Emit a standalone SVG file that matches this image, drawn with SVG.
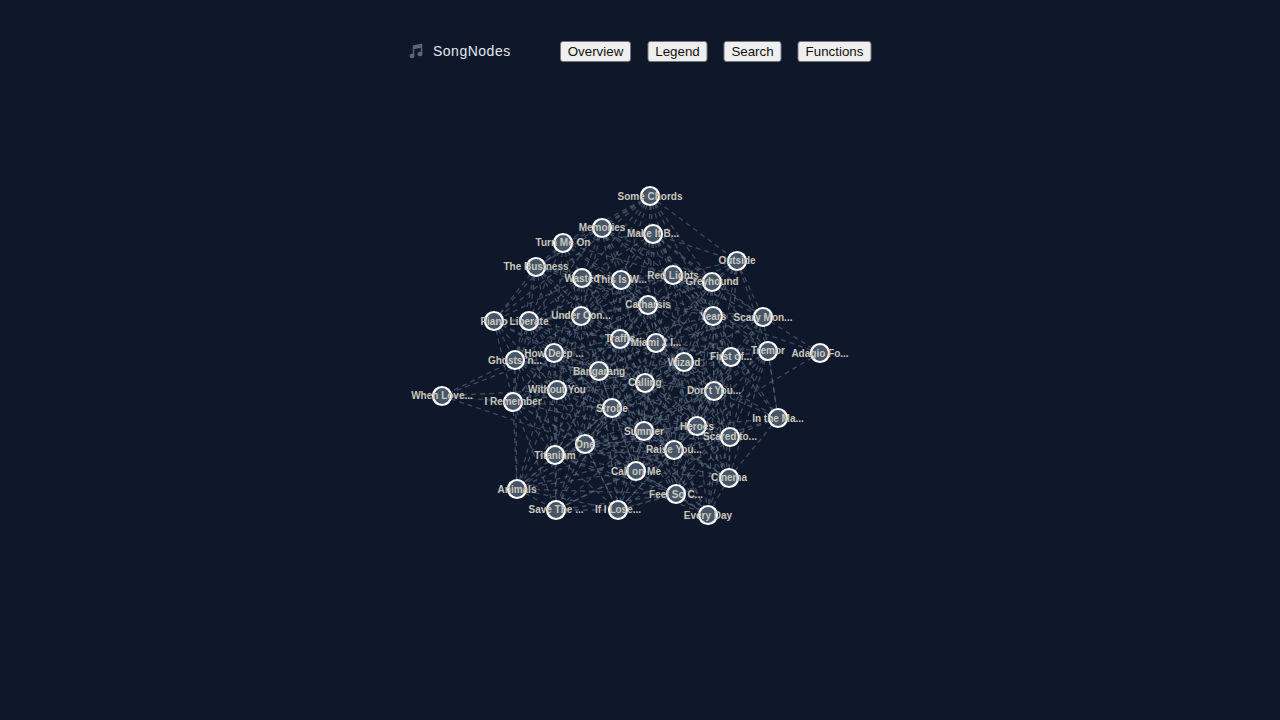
<svg xmlns="http://www.w3.org/2000/svg" width="1280" height="720" viewBox="0 0 1280 720">
<style>
.bg{fill:#0f172a}
.e{fill:none;stroke:#64748b;stroke-opacity:.55;stroke-width:1.3;stroke-dasharray:5 4}
.n circle{fill:#475569;stroke:#fff;stroke-width:2.2}
.n text{font:bold 10px "Liberation Sans",Arial,sans-serif;fill:#c9c7bd;text-anchor:middle}
.b rect{fill:#efefef;stroke:#767676;stroke-width:1}
.b text{font:13.33px "Liberation Sans",Arial,sans-serif;fill:#111;text-anchor:middle}
</style>
<rect class="bg" width="1280" height="720"/>
<g id="header">
<path d="M413.500 46V55.500M421.500 44.500V53.500M413.500 46L421.500 44.500V47L413.500 48.500Z" fill="#56697d" stroke="#56697d" stroke-width="1.500"/>
<ellipse cx="412" cy="56" rx="2.500" ry="2.200" fill="#56697d"/>
<ellipse cx="420" cy="54" rx="2.500" ry="2.200" fill="#56697d"/>
<text x="433" y="56" font-family="Liberation Sans,Arial,sans-serif" font-size="14" letter-spacing=".5" fill="#e2e8f0">SongNodes</text>
<g class="b" id="btn-overview"><rect x="560.500" y="41.500" width="70" height="20" rx="2.500"/><text x="595.500" y="56">Overview</text></g>
<g class="b" id="btn-legend"><rect x="648" y="41.500" width="59" height="20" rx="2.500"/><text x="677.500" y="56">Legend</text></g>
<g class="b" id="btn-search"><rect x="724" y="41.500" width="57" height="20" rx="2.500"/><text x="752.500" y="56">Search</text></g>
<g class="b" id="btn-functions"><rect x="798" y="41.500" width="73" height="20" rx="2.500"/><text x="834.500" y="56">Functions</text></g>
</g>
<g id="connectors" class="e">
<path d="M650 196L737 261M650 196L563 243M650 196L536 267M650 196L602 228M650 196L653 234M650 196L582 278M650 196L621 280M650 196L673 275M650 196L712 282M650 196L648 305M650 196L713 316M650 196L581 316M650 196L494 321"/>
<path d="M602 228L653 234M602 228L563 243M602 228L536 267M602 228L582 278M602 228L621 280M602 228L673 275M602 228L712 282M602 228L648 305M602 228L581 316M602 228L529 321M602 228L620 339M602 228L656 343M602 228L713 316"/>
<path d="M653 234L737 261M653 234L563 243M653 234L582 278M653 234L621 280M653 234L673 275M653 234L712 282M653 234L648 305M653 234L713 316M653 234L763 317M653 234L581 316M653 234L620 339M653 234L656 343M653 234L731 357M653 234L684 362"/>
<path d="M563 243L536 267M563 243L582 278M563 243L621 280M563 243L529 321M563 243L581 316M563 243L494 321M563 243L648 305M563 243L620 339M563 243L554 353M563 243L673 275"/>
<path d="M536 267L582 278M536 267L621 280M536 267L494 321M536 267L529 321M536 267L581 316M536 267L515 360M536 267L554 353M536 267L620 339M536 267L599 371M536 267L648 305"/>
<path d="M737 261L712 282M737 261L673 275M737 261L713 316M737 261L763 317M737 261L648 305M737 261L768 351M737 261L731 357M737 261L684 362M737 261L656 343M737 261L714 391"/>
<path d="M582 278L621 280M582 278L673 275M582 278L648 305M582 278L581 316M582 278L529 321M582 278L494 321M582 278L620 339M582 278L656 343M582 278L554 353M582 278L515 360M582 278L599 371M582 278L645 383M582 278L557 390"/>
<path d="M621 280L673 275M621 280L712 282M621 280L648 305M621 280L713 316M621 280L581 316M621 280L529 321M621 280L620 339M621 280L656 343M621 280L554 353M621 280L684 362M621 280L599 371M621 280L645 383M621 280L612 408M621 280L731 357"/>
<path d="M673 275L712 282M673 275L648 305M673 275L713 316M673 275L763 317M673 275L581 316M673 275L620 339M673 275L656 343M673 275L684 362M673 275L731 357M673 275L645 383M673 275L714 391M673 275L768 351"/>
<path d="M712 282L648 305M712 282L713 316M712 282L763 317M712 282L656 343M712 282L684 362M712 282L731 357M712 282L768 351M712 282L714 391M712 282L645 383M712 282L697 426"/>
<path d="M648 305L713 316M648 305L763 317M648 305L581 316M648 305L529 321M648 305L620 339M648 305L656 343M648 305L554 353M648 305L684 362M648 305L731 357M648 305L599 371M648 305L645 383M648 305L714 391M648 305L612 408M648 305L697 426M648 305L644 431M648 305L557 390"/>
<path d="M713 316L763 317M713 316L656 343M713 316L620 339M713 316L684 362M713 316L731 357M713 316L768 351M713 316L820 353M713 316L645 383M713 316L714 391M713 316L778 418M713 316L697 426M713 316L730 437M713 316L644 431M713 316L599 371"/>
<path d="M763 317L820 353M763 317L768 351M763 317L731 357M763 317L684 362M763 317L714 391M763 317L645 383M763 317L697 426M763 317L778 418M763 317L730 437M763 317L656 343"/>
<path d="M494 321L529 321M494 321L581 316M494 321L515 360M494 321L554 353M494 321L513 402M494 321L599 371M494 321L557 390M494 321L620 339"/>
<path d="M529 321L581 316M529 321L515 360M529 321L554 353M529 321L513 402M529 321L599 371M529 321L620 339M529 321L557 390M529 321L612 408M529 321L645 383M529 321L555 455"/>
<path d="M581 316L620 339M581 316L656 343M581 316L554 353M581 316L515 360M581 316L599 371M581 316L684 362M581 316L645 383M581 316L557 390M581 316L513 402M581 316L612 408M581 316L644 431M581 316L585 444M581 316L555 455"/>
<path d="M620 339L656 343M620 339L554 353M620 339L515 360M620 339L684 362M620 339L731 357M620 339L599 371M620 339L645 383M620 339L714 391M620 339L557 390M620 339L513 402M620 339L612 408M620 339L697 426M620 339L644 431M620 339L585 444M620 339L674 450M620 339L555 455M620 339L636 471"/>
<path d="M656 343L684 362M656 343L731 357M656 343L768 351M656 343L599 371M656 343L645 383M656 343L714 391M656 343L557 390M656 343L612 408M656 343L697 426M656 343L644 431M656 343L730 437M656 343L585 444M656 343L674 450M656 343L636 471M656 343L729 478M656 343L554 353"/>
<path d="M554 353L515 360M554 353L599 371M554 353L645 383M554 353L557 390M554 353L513 402M554 353L612 408M554 353L585 444M554 353L555 455M554 353L644 431M554 353L442 396M554 353L517 489M554 353L636 471"/>
<path d="M515 360L442 396M515 360L599 371M515 360L557 390M515 360L513 402M515 360L612 408M515 360L555 455M515 360L585 444M515 360L517 489M515 360L645 383"/>
<path d="M768 351L731 357M768 351L684 362M768 351L714 391M768 351L778 418M768 351L697 426M768 351L730 437M768 351L644 431M768 351L674 450M768 351L729 478M768 351L676 494"/>
<path d="M820 353L697 426"/>
<path d="M731 357L684 362M731 357L645 383M731 357L714 391M731 357L778 418M731 357L697 426M731 357L730 437M731 357L644 431M731 357L674 450M731 357L729 478M731 357L636 471M731 357L612 408M731 357L708 515"/>
<path d="M684 362L599 371M684 362L645 383M684 362L714 391M684 362L612 408M684 362L697 426M684 362L644 431M684 362L730 437M684 362L778 418M684 362L585 444M684 362L674 450M684 362L636 471M684 362L729 478M684 362L676 494M684 362L557 390"/>
<path d="M599 371L645 383M599 371L557 390M599 371L513 402M599 371L612 408M599 371L644 431M599 371L697 426M599 371L585 444M599 371L555 455M599 371L674 450M599 371L636 471M599 371L517 489M599 371L556 510M599 371L618 510M599 371L714 391"/>
<path d="M645 383L714 391M645 383L557 390M645 383L612 408M645 383L697 426M645 383L644 431M645 383L730 437M645 383L585 444M645 383L674 450M645 383L555 455M645 383L636 471M645 383L729 478M645 383L676 494M645 383L618 510M645 383L708 515M645 383L513 402"/>
<path d="M714 391L612 408M714 391L778 418M714 391L697 426M714 391L644 431M714 391L730 437M714 391L585 444M714 391L674 450M714 391L636 471M714 391L729 478M714 391L676 494M714 391L708 515"/>
<path d="M557 390L513 402M557 390L612 408M557 390L644 431M557 390L585 444M557 390L555 455M557 390L636 471M557 390L517 489M557 390L556 510M557 390L618 510M557 390L674 450M557 390L442 396"/>
<path d="M442 396L513 402M442 396L585 444M513 402L612 408M513 402L585 444M513 402L555 455M513 402L517 489M513 402L556 510M513 402L636 471M513 402L644 431"/>
<path d="M612 408L644 431M612 408L697 426M612 408L585 444M612 408L555 455M612 408L674 450M612 408L730 437M612 408L636 471M612 408L517 489M612 408L676 494M612 408L556 510M612 408L618 510M612 408L708 515M612 408L729 478"/>
<path d="M778 418L730 437M778 418L697 426M778 418L729 478M778 418L674 450M778 418L644 431"/>
<path d="M697 426L644 431M697 426L730 437M697 426L674 450M697 426L585 444M697 426L636 471M697 426L729 478M697 426L676 494M697 426L708 515M697 426L618 510M697 426L555 455"/>
<path d="M644 431L730 437M644 431L585 444M644 431L674 450M644 431L555 455M644 431L636 471M644 431L729 478M644 431L517 489M644 431L676 494M644 431L556 510M644 431L618 510M644 431L708 515"/>
<path d="M730 437L674 450M730 437L636 471M730 437L729 478M730 437L676 494M730 437L708 515M730 437L618 510M730 437L585 444"/>
<path d="M585 444L674 450M585 444L555 455M585 444L636 471M585 444L517 489M585 444L676 494M585 444L556 510M585 444L618 510M585 444L708 515M585 444L729 478"/>
<path d="M674 450L636 471M674 450L555 455M674 450L729 478M674 450L676 494M674 450L708 515M674 450L618 510M674 450L556 510M674 450L517 489"/>
<path d="M555 455L636 471M555 455L517 489M555 455L556 510M555 455L618 510M555 455L676 494M555 455L708 515"/>
<path d="M636 471L729 478M636 471L517 489M636 471L676 494M636 471L556 510M636 471L618 510M636 471L708 515"/>
<path d="M729 478L676 494M729 478L708 515M729 478L618 510M517 489L556 510M517 489L618 510M517 489L676 494M676 494L708 515M676 494L618 510M676 494L556 510M556 510L618 510"/>
</g>
<g id="nodes">
<g class="n" id="n1"><circle cx="650" cy="196" r="9"/><text x="650" y="200">Some Chords</text></g>
<g class="n" id="n2"><circle cx="602" cy="228" r="9"/><text x="602" y="231">Memories</text></g>
<g class="n" id="n3"><circle cx="653" cy="234" r="9"/><text x="653" y="237">Make It B...</text></g>
<g class="n" id="n4"><circle cx="563" cy="243" r="9"/><text x="563" y="246">Turn Me On</text></g>
<g class="n" id="n5"><circle cx="536" cy="267" r="9"/><text x="536" y="270">The Business</text></g>
<g class="n" id="n6"><circle cx="737" cy="261" r="9"/><text x="737" y="264">Outside</text></g>
<g class="n" id="n7"><circle cx="582" cy="278" r="9"/><text x="582" y="282">Wasted</text></g>
<g class="n" id="n8"><circle cx="621" cy="280" r="9"/><text x="621" y="283">This Is W...</text></g>
<g class="n" id="n9"><circle cx="673" cy="275" r="9"/><text x="673" y="279">Red Lights</text></g>
<g class="n" id="n10"><circle cx="712" cy="282" r="9"/><text x="712" y="285">Greyhound</text></g>
<g class="n" id="n11"><circle cx="648" cy="305" r="9"/><text x="648" y="308">Catharsis</text></g>
<g class="n" id="n12"><circle cx="713" cy="316" r="9"/><text x="713" y="320">Years</text></g>
<g class="n" id="n13"><circle cx="763" cy="317" r="9"/><text x="763" y="321">Scary Mon...</text></g>
<g class="n" id="n14"><circle cx="494" cy="321" r="9"/><text x="494" y="325">Piano</text></g>
<g class="n" id="n15"><circle cx="529" cy="321" r="9"/><text x="529" y="325">Liberate</text></g>
<g class="n" id="n16"><circle cx="581" cy="316" r="9"/><text x="581" y="319">Under Con...</text></g>
<g class="n" id="n17"><circle cx="620" cy="339" r="9"/><text x="620" y="342">Traffic</text></g>
<g class="n" id="n18"><circle cx="656" cy="343" r="9"/><text x="656" y="346">Miami 2 I...</text></g>
<g class="n" id="n19"><circle cx="554" cy="353" r="9"/><text x="554" y="357">How Deep ...</text></g>
<g class="n" id="n20"><circle cx="515" cy="360" r="9"/><text x="515" y="364">Ghosts 'n...</text></g>
<g class="n" id="n21"><circle cx="768" cy="351" r="9"/><text x="768" y="354">Tremor</text></g>
<g class="n" id="n22"><circle cx="820" cy="353" r="9"/><text x="820" y="357">Adagio Fo...</text></g>
<g class="n" id="n23"><circle cx="731" cy="357" r="9"/><text x="731" y="360">First of...</text></g>
<g class="n" id="n24"><circle cx="684" cy="362" r="9"/><text x="684" y="366">Wizard</text></g>
<g class="n" id="n25"><circle cx="599" cy="371" r="9"/><text x="599" y="375">Bangarang</text></g>
<g class="n" id="n26"><circle cx="645" cy="383" r="9"/><text x="645" y="386">Calling</text></g>
<g class="n" id="n27"><circle cx="714" cy="391" r="9"/><text x="714" y="394">Don't You...</text></g>
<g class="n" id="n28"><circle cx="557" cy="390" r="9"/><text x="557" y="393">Without You</text></g>
<g class="n" id="n29"><circle cx="442" cy="396" r="9"/><text x="442" y="399">When Love...</text></g>
<g class="n" id="n30"><circle cx="513" cy="402" r="9"/><text x="513" y="405">I Remember</text></g>
<g class="n" id="n31"><circle cx="612" cy="408" r="9"/><text x="612" y="412">Strobe</text></g>
<g class="n" id="n32"><circle cx="778" cy="418" r="9"/><text x="778" y="422">In the Ma...</text></g>
<g class="n" id="n33"><circle cx="697" cy="426" r="9"/><text x="697" y="430">Heroes</text></g>
<g class="n" id="n34"><circle cx="644" cy="431" r="9"/><text x="644" y="435">Summer</text></g>
<g class="n" id="n35"><circle cx="730" cy="437" r="9"/><text x="730" y="440">Scared to...</text></g>
<g class="n" id="n36"><circle cx="585" cy="444" r="9"/><text x="585" y="448">One</text></g>
<g class="n" id="n37"><circle cx="674" cy="450" r="9"/><text x="674" y="453">Raise You...</text></g>
<g class="n" id="n38"><circle cx="555" cy="455" r="9"/><text x="555" y="459">Titanium</text></g>
<g class="n" id="n39"><circle cx="636" cy="471" r="9"/><text x="636" y="475">Call on Me</text></g>
<g class="n" id="n40"><circle cx="729" cy="478" r="9"/><text x="729" y="481">Cinema</text></g>
<g class="n" id="n41"><circle cx="517" cy="489" r="9"/><text x="517" y="493">Animals</text></g>
<g class="n" id="n42"><circle cx="676" cy="494" r="9"/><text x="676" y="498">Feel So C...</text></g>
<g class="n" id="n43"><circle cx="556" cy="510" r="9"/><text x="556" y="513">Save The ...</text></g>
<g class="n" id="n44"><circle cx="618" cy="510" r="9"/><text x="618" y="513">If I Lose...</text></g>
<g class="n" id="n45"><circle cx="708" cy="515" r="9"/><text x="708" y="519">Every Day</text></g>
</g>
</svg>
